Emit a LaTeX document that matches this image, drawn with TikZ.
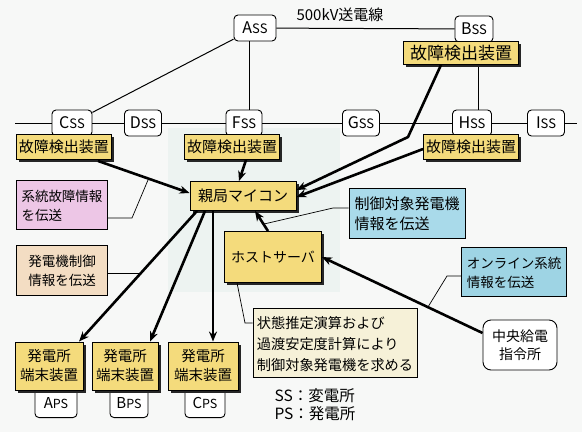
\documentclass[tikz,border=0pt]{standalone}
\usepackage{fontspec}
\setmainfont{Noto Sans CJK JP}
\usetikzlibrary{shadows,arrows.meta,calc}
\definecolor{bgcol}{HTML}{F7F8F7}
\definecolor{mint}{HTML}{EDF3F1}
\definecolor{yel}{HTML}{F4DB7C}
\definecolor{pinkc}{HTML}{EDC6E6}
\definecolor{beige}{HTML}{F3DDC3}
\definecolor{blue1}{HTML}{A9DAEA}
\definecolor{blue2}{HTML}{9ED4E4}
\definecolor{cream}{HTML}{F6F1D8}
\newcommand\sslab[1]{{\fontsize{16}{16}\selectfont #1}{\fontsize{13}{13}\selectfont SS}}
\newcommand\pslab[1]{{\fontsize{15}{15}\selectfont #1}{\fontsize{12.5}{12.5}\selectfont PS}}
\newcommand\fs[2]{\fontsize{#1}{#2}\selectfont}
\begin{document}
\begin{tikzpicture}[x=1pt,y=-1pt,
  ssbox/.style={draw, rounded corners=4pt, fill=white, line width=0.9pt, inner sep=0pt, minimum height=26pt},
  shad/.style={drop shadow={shadow xshift=2.5pt, shadow yshift=-2.5pt, fill=black!85, opacity=1}},
  detbox/.style={draw, fill=yel, line width=0.9pt, inner sep=0pt, minimum width=95pt, minimum height=25pt, font=\fs{15}{15}, shad},
  infobox/.style={draw, line width=0.8pt, inner sep=3pt, text depth=0pt},
  termbox/.style={draw, fill=yel, line width=0.9pt, inner sep=0pt, minimum height=48pt, align=center, font=\fs{14.5}{19}, shad},
  tagbox/.style={draw, rounded corners=4pt, fill=white, line width=0.9pt, inner sep=0pt, minimum height=30pt, minimum width=42pt, anchor=south, text depth=-6pt},
  wire/.style={line width=1pt},
  arr/.style={line width=2.6pt, -{Stealth[length=10pt,width=8pt]}},
  call/.style={line width=0.7pt}
]
\useasboundingbox (0,0) rectangle (582,432);
\fill[bgcol] (0,0) rectangle (582,432);
\fill[mint] (168,128) rectangle (340,292);

% title of line
\node[font=\fs{15}{15}] (t500) at (340,15) {500kV送電線};

% substations
\node[ssbox, minimum width=42pt] (A) at (255,28) {\sslab{A}};
\node[ssbox, minimum width=38pt] (B) at (474,29) {\sslab{B}};
\node[ssbox, minimum width=40pt] (C) at (72,123) {\sslab{C}};
\node[ssbox, minimum width=37pt] (D) at (143,123) {\sslab{D}};
\node[ssbox, minimum width=36pt] (F) at (244,123) {\sslab{F}};
\node[ssbox, minimum width=37pt] (G) at (361,123) {\sslab{G}};
\node[ssbox, minimum width=39pt] (H) at (472,123) {\sslab{H}};
\node[ssbox, minimum width=37pt] (I) at (546,123) {\sslab{I}};
\coordinate (busL) at (15,123);
\coordinate (busR) at (577,123);

\draw[wire] (A) -- (B);
\draw[wire] (busL) -- (C) -- (D) -- (F) -- (G) -- (H) -- (I) -- (busR);
\draw[wire] (A) -- (C);
\draw[wire] ([xshift=-6pt]A.south) -- ([xshift=5pt]F.north);
\draw[wire] ([xshift=4pt]B.south) -- ([xshift=6pt]H.north);

% fault detectors
\node[detbox, minimum width=115pt, minimum height=23pt, font=\fs{17}{17}] (detB) at (461,53) {故障検出装置};
\node[detbox] (detC) at (64,147) {故障検出装置};
\node[detbox] (detF) at (232,147) {故障検出装置};
\node[detbox] (detH) at (471,147) {故障検出装置};

% master micro
\node[draw, fill=yel, line width=0.9pt, inner sep=0pt, minimum width=106pt, minimum height=29pt, font=\fs{15}{15}, shad] (oya) at (243,196) {親局マイコン};
% host server
\node[draw, fill=yel, line width=0.9pt, inner sep=0pt, minimum width=97pt, minimum height=51pt, font=\fs{14}{14}, shad] (host) at (273,257) {ホストサーバ};

% info boxes
\node[infobox, fill=pinkc, minimum width=91pt, minimum height=49pt, align=left, font=\fs{13.5}{19}] (kei) at (62,205) {系統故障情報\\を伝送};
\node[infobox, fill=beige, minimum width=91pt, minimum height=50pt, align=center, font=\fs{13.5}{19}] (hatsu) at (62,270) {発電機制御\\情報を伝送};
\node[infobox, fill=blue1, inner sep=1pt, minimum width=116pt, minimum height=50pt, align=left, font=\fs{15}{20}] (seigyo) at (407,213) {制御対象発電機\\情報を伝送};
\node[infobox, fill=blue2, minimum width=105pt, minimum height=49pt, align=left, font=\fs{13.5}{19}] (online) at (514,272) {オンライン系統\\情報を伝送};
\node[draw, rounded corners=8pt, fill=white, line width=0.9pt, minimum width=74pt, minimum height=50pt, align=center, font=\fs{14}{18}] (chuo) at (520,345) {中央給電\\指令所};
\node[infobox, fill=cream, inner sep=2pt, minimum width=164pt, minimum height=69pt, align=left, font=\fs{14.2}{21}] (jotai) at (335,343) {状態推定演算および\\過渡安定度計算により\\制御対象発電機を求める};

% terminal tags (drawn below terminal boxes)
\node[tagbox] (tagA) at (56,418) {\pslab{A}};
\node[tagbox, minimum width=38pt] (tagB) at (129,418) {\pslab{B}};
\node[tagbox, minimum width=40pt] (tagC) at (205,418) {\pslab{C}};
% terminals
\node[termbox, minimum width=68pt] (pa) at (49,366) {発電所\\端末装置};
\node[termbox, minimum width=66pt] (pb) at (125,366) {発電所\\端末装置};
\node[termbox, minimum width=70pt] (pc) at (203,366) {発電所\\端末装置};

% arrows
\draw[arr] ([xshift=34pt,yshift=-1pt]detC.south) -- ([yshift=3pt]oya.west);
\draw[arr] ([xshift=14pt]detF.south) -- ([xshift=-4pt]oya.north);
\coordinate (bendB) at (408,137);
\draw[arr] ([xshift=-20pt]detB.south) -- (bendB) -- ([yshift=6pt]oya.east);
\draw[arr] ([yshift=-2pt]detH.west) -- ([yshift=-1pt]oya.east);
\draw[arr] ([xshift=-46pt]oya.south) -- ([xshift=30pt]pa.north);
\draw[arr] ([xshift=-38pt]oya.south) -- ([xshift=25pt]pb.north);
\draw[arr] ([xshift=-30pt]oya.south) -- ([xshift=10pt]pc.north);
\draw[arr] ([xshift=-5pt]host.north) -- ([xshift=12pt]oya.south);
\draw[arr] ([yshift=12pt]chuo.west) -- (host.east);

% callouts
\coordinate (kc1) at (132,218);
\coordinate (kc2) at (148,180);
\draw[call] ([yshift=-13pt]kei.east) -- (kc1) -- (kc2);
\coordinate (hc1) at (141,273);
\draw[call] ([yshift=-3pt]hatsu.east) -- (hc1);
\coordinate (sc1) at (333,208);
\coordinate (sc2) at (264,224);
\draw[call] ([yshift=5pt]seigyo.west) -- (sc1) -- (sc2);
\coordinate (oc1) at (447,276);
\coordinate (oc2) at (428,307);
\draw[call] ([yshift=-4pt]online.west) -- (oc1) -- (oc2);
\coordinate (jc1) at (245,323);
\draw[call] ([xshift=13pt]host.south west) -- (jc1) -- (jotai.west |- jc1);

% legend
\node[anchor=west, font=\fs{15.5}{15.5}] (lss) at (271,396) {SS：変電所};
\node[anchor=west, font=\fs{15.5}{15.5}] (lps) at (271,414) {PS：発電所};
\end{tikzpicture}
\end{document}
